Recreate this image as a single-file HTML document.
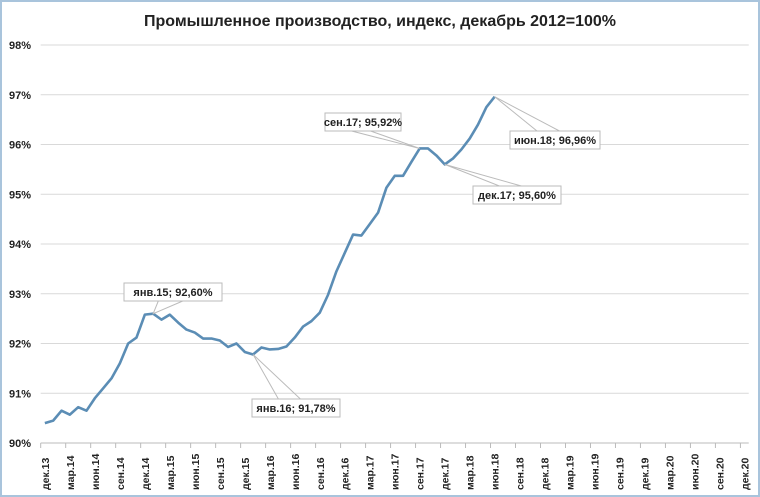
<!DOCTYPE html>
<html><head><meta charset="utf-8"><style>
body{margin:0;background:#fff}
svg{display:block;font-family:"Liberation Sans",sans-serif}
</style></head><body>
<svg id="c" width="760" height="497">
<rect x="1" y="1" width="758" height="495" fill="#fff" stroke="#a9c4dc" stroke-width="2"/>
<text x="380" y="26" text-anchor="middle" font-size="16" font-weight="bold" fill="#222">Промышленное производство, индекс, декабрь 2012=100%</text>
<g id="grid"></g><g id="xax"></g><g id="series"></g><g id="labels"></g>
</svg>
<script>
const categories=["дек.13","янв.14","фев.14","мар.14","апр.14","май.14","июн.14","июл.14","авг.14","сен.14","окт.14","ноя.14","дек.14","янв.15","фев.15","мар.15","апр.15","май.15","июн.15","июл.15","авг.15","сен.15","окт.15","ноя.15","дек.15","янв.16","фев.16","мар.16","апр.16","май.16","июн.16","июл.16","авг.16","сен.16","окт.16","ноя.16","дек.16","янв.17","фев.17","мар.17","апр.17","май.17","июн.17","июл.17","авг.17","сен.17","окт.17","ноя.17","дек.17","янв.18","фев.18","мар.18","апр.18","май.18","июн.18","июл.18","авг.18","сен.18","окт.18","ноя.18","дек.18","янв.19","фев.19","мар.19","апр.19","май.19","июн.19","июл.19","авг.19","сен.19","окт.19","ноя.19","дек.19","янв.20","фев.20","мар.20","апр.20","май.20","июн.20","июл.20","авг.20","сен.20","окт.20","ноя.20","дек.20"];
const values=[90.40,90.45,90.65,90.57,90.72,90.65,90.90,91.10,91.30,91.60,92.00,92.12,92.58,92.60,92.48,92.58,92.42,92.28,92.22,92.10,92.10,92.06,91.93,92.00,91.83,91.78,91.92,91.88,91.89,91.94,92.12,92.34,92.45,92.62,92.98,93.45,93.82,94.19,94.17,94.40,94.63,95.13,95.37,95.37,95.65,95.92,95.92,95.78,95.60,95.72,95.90,96.12,96.40,96.75,96.96];
const yTicks=[90,91,92,93,94,95,96,97,98];
const annIdx=[13,25,45,48,54];
const annText=["янв.15; 92,60%","янв.16; 91,78%","сен.17; 95,92%","дек.17; 95,60%","июн.18; 96,96%"];
const annBox=[[124,283,98],[252,399,88],[325,113,76],[473,186,88],[510,131,90]];
const NS="http://www.w3.org/2000/svg";
const L=40.7,W=8.33,Y0=443,PY=49.75;
const x=i=>L+W*(i+0.5), y=v=>Y0-(v-90)*PY;
function mk(t,a,p){const e=document.createElementNS(NS,t);for(const k in a)e.setAttribute(k,a[k]);document.getElementById(p).appendChild(e);return e;}
yTicks.forEach(v=>{
 const g=mk('line',{x1:L,x2:L+W*categories.length,y1:y(v),y2:y(v),stroke:v==90?'#bbb':'#d9d9d9','stroke-width':1},'grid');
 
 
 const t=mk('text',{x:31,y:y(v)+4,'text-anchor':'end','font-size':11,'font-weight':'bold',fill:'#222'},'grid');t.textContent=v+'%';
 
 
});
categories.forEach((c,i)=>{
 if(i%3)return;
 const tk=mk('line',{x1:L+W*i,x2:L+W*i,y1:Y0,y2:Y0+5,stroke:'#bbb'},'xax');
 
 
 const t=mk('text',{transform:`translate(${x(i)+4},${Y0+47}) rotate(-90)`,'font-size':10.5,'font-weight':'bold',fill:'#222'},'xax');t.textContent=c;
 
 
});
const pl=mk('polyline',{points:values.map((v,i)=>x(i)+','+y(v)).join(' '),fill:'none',stroke:'#5b8db5','stroke-width':2.6,'stroke-linejoin':'round'},'series');


annIdx.forEach((idx,k)=>{
 const [bx,by,bw]=annBox[k];const px=x(idx),py=y(values[idx]);
 const ln=mk('polygon',{points:`${px},${py} ${bx+bw*0.35},${by+18} ${bx+bw*0.6},${by+18}`,fill:'none',stroke:'#bbb','stroke-width':1},'labels');
 if(by<py){ln.setAttribute('points',`${px},${py} ${bx+bw*0.35},${by+18} ${bx+bw*0.6},${by+18}`);}else{ln.setAttribute('points',`${px},${py} ${bx+bw*0.3},${by} ${bx+bw*0.55},${by}`);}
 
 
 const r=mk('rect',{x:bx,y:by,width:bw,height:18,fill:'#fff',stroke:'#bbb'},'labels');
 
 
 const t=mk('text',{x:bx+bw/2,y:by+13,'text-anchor':'middle','font-size':11,'font-weight':'bold',fill:'#222'},'labels');t.textContent=annText[k];
 
 
});
</script>
</body></html>
